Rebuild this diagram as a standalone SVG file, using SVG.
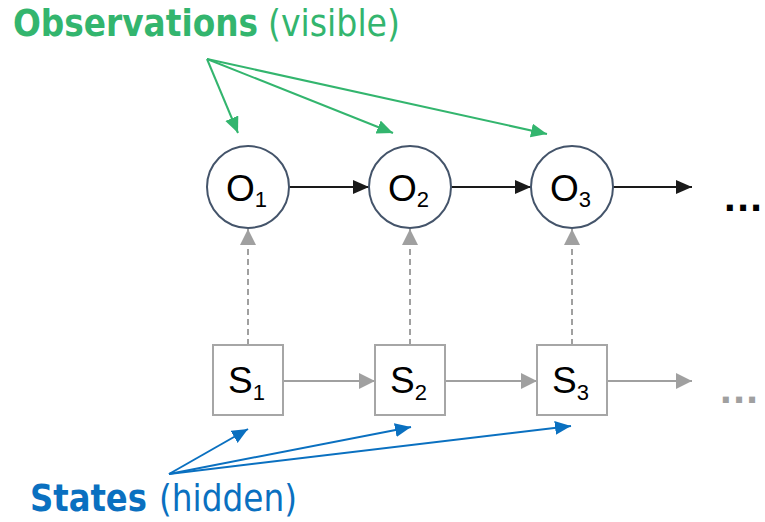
<svg xmlns="http://www.w3.org/2000/svg" width="765" height="522" viewBox="0 0 765 522">
<defs>
<style>
.circ{fill:#fff;stroke:#44546a;stroke-width:2}
.sq{fill:#fff;stroke:#a6a6a6;stroke-width:2}
.lbl{font-family:"Liberation Sans",Arial,sans-serif;font-size:37px;fill:#000}
.sub{font-size:22px}
.blk{stroke:#1a1a1a;stroke-width:2;fill:none}
.gry{stroke:#a0a0a0;stroke-width:2;fill:none}
.dsh{stroke:#a0a0a0;stroke-width:2;fill:none;stroke-dasharray:6,4}
.grn{stroke:#33b56e;stroke-width:2;fill:none}
.blu{stroke:#0a70c0;stroke-width:2;fill:none}
.title{font-family:"DejaVu Sans",Verdana,sans-serif;font-size:38px}
.dots{font-family:"Liberation Sans",Arial,sans-serif;font-size:42px;font-weight:bold;letter-spacing:1.5px}
</style>
<marker id="ab" markerUnits="userSpaceOnUse" markerWidth="18" markerHeight="16" refX="16" refY="7" orient="auto"><path d="M0,0 L16,7 L0,14 z" fill="#1a1a1a"/></marker>
<marker id="ag" markerUnits="userSpaceOnUse" markerWidth="18" markerHeight="18" refX="16" refY="8" orient="auto"><path d="M0,0 L16,8 L0,16 z" fill="#a0a0a0"/></marker>
<marker id="agr" markerUnits="userSpaceOnUse" markerWidth="18" markerHeight="16" refX="16" refY="7" orient="auto"><path d="M0,0 L16,7 L0,14 z" fill="#33b56e"/></marker>
<marker id="abl" markerUnits="userSpaceOnUse" markerWidth="18" markerHeight="16" refX="16" refY="7" orient="auto"><path d="M0,0 L16,7 L0,14 z" fill="#0a70c0"/></marker>
</defs>
<rect width="765" height="522" fill="#fff"/>

<g id="connectors">
<line class="blk" x1="289" y1="187" x2="369" y2="187" marker-end="url(#ab)"/>
<line class="blk" x1="451" y1="187" x2="531" y2="187" marker-end="url(#ab)"/>
<line class="blk" x1="613" y1="187" x2="692" y2="187" marker-end="url(#ab)"/>
<line class="gry" x1="283" y1="381" x2="375" y2="381" marker-end="url(#ag)"/>
<line class="gry" x1="445" y1="381" x2="537" y2="381" marker-end="url(#ag)"/>
<line class="gry" x1="607" y1="381" x2="692" y2="381" marker-end="url(#ag)"/>
<line class="dsh" x1="248" y1="345" x2="248" y2="229" marker-end="url(#ag)"/>
<line class="dsh" x1="410" y1="345" x2="410" y2="229" marker-end="url(#ag)"/>
<line class="dsh" x1="572" y1="345" x2="572" y2="229" marker-end="url(#ag)"/>
<line class="grn" x1="207" y1="59" x2="238" y2="133" marker-end="url(#agr)"/>
<line class="grn" x1="207" y1="59" x2="393" y2="133" marker-end="url(#agr)"/>
<line class="grn" x1="207" y1="59" x2="547" y2="134" marker-end="url(#agr)"/>
<line class="blu" x1="169" y1="474" x2="248" y2="429" marker-end="url(#abl)"/>
<line class="blu" x1="169" y1="474" x2="411" y2="427" marker-end="url(#abl)"/>
<line class="blu" x1="169" y1="474" x2="571" y2="426" marker-end="url(#abl)"/>
</g>

<g id="O1"><circle class="circ" cx="248" cy="187" r="41"/><text class="lbl" x="226" y="201">O<tspan class="sub" dy="6">1</tspan></text></g>
<g id="O2"><circle class="circ" cx="410" cy="187" r="41"/><text class="lbl" x="388" y="201">O<tspan class="sub" dy="6">2</tspan></text></g>
<g id="O3"><circle class="circ" cx="572" cy="187" r="41"/><text class="lbl" x="550" y="201">O<tspan class="sub" dy="6">3</tspan></text></g>
<g id="O-more"><text class="dots" x="724" y="211" fill="#000">...</text></g>

<g id="S1"><rect class="sq" x="213" y="345" width="70" height="70"/><text class="lbl" x="228" y="393">S<tspan class="sub" dy="7">1</tspan></text></g>
<g id="S2"><rect class="sq" x="375" y="345" width="70" height="70"/><text class="lbl" x="390" y="393">S<tspan class="sub" dy="7">2</tspan></text></g>
<g id="S3"><rect class="sq" x="537" y="345" width="70" height="70"/><text class="lbl" x="552" y="393">S<tspan class="sub" dy="7">3</tspan></text></g>
<g id="S-more"><text class="dots" x="720" y="403" fill="#a0a0a0">...</text></g>

<g id="observations-label">
<text class="title" transform="translate(13,36) scale(0.86,1)" x="0" y="0" fill="#33b56e" font-weight="bold" textLength="284.9" lengthAdjust="spacingAndGlyphs">Observations</text>
<text class="title" transform="translate(268,36) scale(0.874,1)" x="0" y="0" fill="#33b56e" textLength="151" lengthAdjust="spacingAndGlyphs">(visible)</text>
</g>
<g id="states-label">
<text class="title" transform="translate(30,511) scale(0.85,1)" x="0" y="0" fill="#0a70c0" font-weight="bold" textLength="137.6" lengthAdjust="spacingAndGlyphs">States</text>
<text class="title" transform="translate(159,511) scale(0.862,1)" x="0" y="0" fill="#0a70c0" textLength="160.1" lengthAdjust="spacingAndGlyphs">(hidden)</text>
</g>
</svg>
